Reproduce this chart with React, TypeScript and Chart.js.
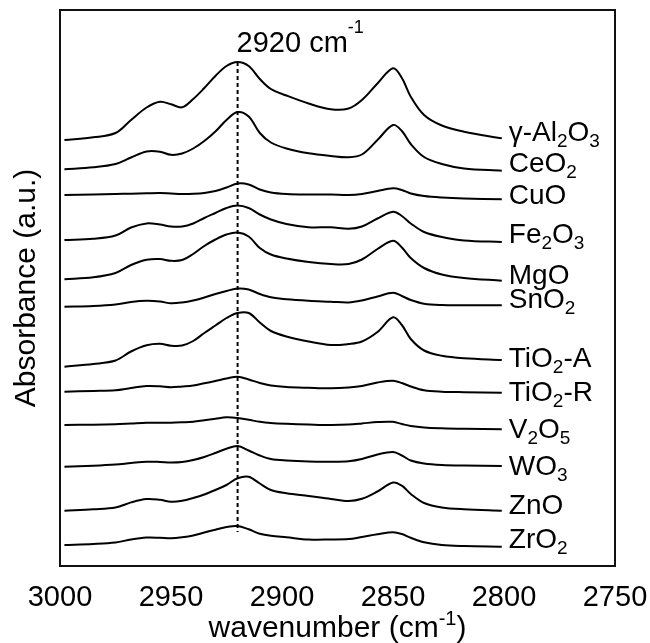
import React, { useEffect, useRef } from 'react';
import { Chart, registerables } from 'chart.js';

Chart.register(...registerables);

// Wavenumber grid (cm-1), shared by every spectrum
const WAVENUMBERS = [2998, 2985, 2975, 2968, 2961, 2955, 2950, 2945, 2940, 2935, 2930, 2925, 2920, 2915, 2910, 2905, 2898, 2888, 2878, 2870, 2864, 2857, 2850, 2846, 2842, 2836, 2828, 2818, 2801];

// Stacked absorbance (a.u., offset traces)
const AL2O3 = [426, 428.7, 433, 446, 458.5, 464.3, 461.7, 458.7, 467, 478, 490, 500, 504, 500, 487, 477, 470.5, 462.5, 456.7, 457.5, 466, 482.5, 497.7, 488, 469.3, 451, 440.5, 434.3, 427.7];
const CEO2 = [396.7, 398.7, 402, 408.5, 414.5, 414.3, 411.2, 412.5, 417.5, 425, 434.5, 446, 454, 449.5, 433, 423.5, 417.5, 412.7, 410, 408.7, 411.5, 426, 441, 435, 422, 409, 402, 397.5, 395.3];
const CUO = [371, 371.5, 372, 372.3, 372.7, 373, 372.5, 372, 372.2, 373, 375, 378.5, 382.5, 381.5, 376.5, 373.5, 372, 371.5, 371.5, 371, 372, 375, 377.7, 376, 372.5, 370, 368.5, 367.5, 366.7];
const FE2O3 = [326, 327.3, 330.5, 338.5, 342.6, 341.5, 339.5, 339.5, 342.5, 348, 353, 358, 360.5, 358, 351.5, 346.5, 342, 338.7, 338.7, 337.2, 339.5, 347.5, 354.3, 350, 342.5, 334, 329, 325.5, 324];
const MGO = [286.7, 288.7, 293, 301, 306.2, 307, 305.2, 306, 312, 320, 326.5, 331.5, 333.5, 329.5, 318, 311.5, 307.5, 304, 302, 302, 306.5, 317, 325.3, 318.5, 308, 298, 291.5, 288, 285.3];
const SNO2 = [259.3, 260, 261.5, 264, 265.2, 264.5, 262.7, 263.5, 265.5, 268.5, 272, 275, 277.5, 276.5, 272, 268.7, 266.7, 265.2, 264.3, 263.5, 265.5, 269.5, 273.3, 270, 266, 262.3, 261, 260.8, 260.7];
const TIO2_A = [199.3, 202, 205.5, 214.5, 220.7, 222.2, 220.3, 220.5, 225, 233, 240.5, 248, 253, 253, 243.5, 235, 229.5, 224.5, 221, 222, 224.5, 234, 248.7, 241, 227, 215.5, 210.2, 207.7, 206];
const TIO2_R = [174.3, 175, 175.7, 178, 180, 179.7, 178.7, 179.5, 180.5, 182.7, 185, 187.5, 189.3, 186.5, 183, 180.5, 179, 178.2, 177.7, 178.5, 180, 183.5, 185.3, 183, 179.5, 175.7, 174.3, 173.8, 173.3];
const V2O5 = [141, 141.3, 141.8, 142.5, 143.2, 143.3, 143.3, 143.7, 144.3, 145.8, 147.3, 148.7, 148, 146.2, 144.2, 143, 142.2, 141.5, 141, 141.4, 142.5, 144, 144.2, 142, 140, 138.5, 137.7, 137.2, 136.7];
const WO3 = [99.3, 100.3, 101.5, 103, 104.3, 104.1, 103.5, 104, 106, 109, 113, 117.3, 120, 115.5, 110.5, 107, 105.5, 104.5, 104.3, 104.8, 107, 111.5, 114, 110.5, 105.5, 102.5, 101, 100.4, 100];
const ZNO = [55.3, 56.7, 58.4, 63.6, 67, 66.2, 64.3, 65.2, 68, 71.5, 76, 81, 87.7, 89.2, 82.5, 76, 72.8, 70, 67, 65, 67.2, 74.5, 83.5, 80.3, 72, 63, 58.5, 56.7, 55.3];
const ZRO2 = [21, 22, 23.5, 26.5, 28.4, 28.2, 27.7, 28.7, 30.5, 33.5, 36.3, 39, 40, 36.7, 32.3, 30.2, 28.7, 26.5, 26.5, 26.9, 29, 31.7, 33.8, 32, 28.2, 23.7, 21, 20, 19.3];

// Labels ("_x" = subscript)
const SERIES_LABELS = ['γ-Al_2O_3', 'CeO_2', 'CuO', 'Fe_2O_3', 'MgO', 'SnO_2', 'TiO_2-A', 'TiO_2-R', 'V_2O_5', 'WO_3', 'ZnO', 'ZrO_2'];
const SERIES_VALUES = [AL2O3, CEO2, CUO, FE2O3, MGO, SNO2, TIO2_A, TIO2_R, V2O5, WO3, ZNO, ZRO2];

const X_TICKS = [3000, 2950, 2900, 2850, 2800, 2750];
const MARKER_WAVENUMBER = 2920;
const MARKER_TOP = 504;
const MARKER_BOTTOM = 34;
const MARKER_LABEL = '2920 cm^{-1}';
const X_TITLE = 'wavenumber (cm^{-1})';
const Y_TITLE = 'Absorbance (a.u.)';

// layout only
const LABEL_DY = [3, 1, 5, 1, 3, 3, 7, 8, 9, 9, 3, 1];
const FONT = '"Liberation Sans", Arial, Helvetica, sans-serif';

type Seg = { t: string; k: 'n' | 'sub' | 'sup' };
function parseRich(s: string): Seg[] {
  const segs: Seg[] = [];
  let buf = '';
  for (let i = 0; i < s.length; i++) {
    const c = s[i];
    if (c === '_') {
      if (buf) { segs.push({ t: buf, k: 'n' }); buf = ''; }
      segs.push({ t: s[i + 1], k: 'sub' });
      i++;
    } else if (c === '^') {
      if (buf) { segs.push({ t: buf, k: 'n' }); buf = ''; }
      const end = s.indexOf('}', i);
      segs.push({ t: s.slice(i + 2, end), k: 'sup' });
      i = end;
    } else buf += c;
  }
  if (buf) segs.push({ t: buf, k: 'n' });
  return segs;
}

function drawRich(ctx: CanvasRenderingContext2D, s: string, x: number, y: number, size: number, small: number, subDy: number, supDy: number, align: 'left' | 'center') {
  const segs = parseRich(s);
  const fontOf = (k: string) => `${k === 'n' ? size : small}px ${FONT}`;
  let total = 0;
  for (const sg of segs) { ctx.font = fontOf(sg.k); total += ctx.measureText(sg.t).width; }
  let cx = align === 'center' ? x - total / 2 : x;
  ctx.textAlign = 'left';
  ctx.textBaseline = 'alphabetic';
  for (const sg of segs) {
    ctx.font = fontOf(sg.k);
    const dy = sg.k === 'sub' ? subDy : sg.k === 'sup' ? supDy : 0;
    ctx.fillText(sg.t, cx, y + dy);
    cx += ctx.measureText(sg.t).width;
  }
}

const decorPlugin = {
  id: 'decor',
  afterDatasetsDraw(chart: any) {
    const { ctx, chartArea, scales } = chart;
    const xs = scales.x;
    const ys = scales.y;
    ctx.save();
    ctx.fillStyle = '#000';
    // frame
    ctx.strokeStyle = '#111';
    ctx.lineWidth = 2;
    ctx.strokeRect(chartArea.left, chartArea.top, chartArea.right - chartArea.left, chartArea.bottom - chartArea.top);
    // series labels
    SERIES_VALUES.forEach((vals, i) => {
      const n = vals.length - 1;
      const px = xs.getPixelForValue(WAVENUMBERS[n]) + 7;
      const py = ys.getPixelForValue(vals[n]) + LABEL_DY[i];
      drawRich(ctx, SERIES_LABELS[i], px, py, 28, 19, 6, -12, 'left');
    });
    // marker label
    drawRich(ctx, MARKER_LABEL, xs.getPixelForValue(MARKER_WAVENUMBER) - 1, chartArea.top + 42, 29, 18, 6, -19, 'left');
    // x title
    drawRich(ctx, X_TITLE, (chartArea.left + chartArea.right) / 2, 637, 30, 20, 6, -12, 'center');
    // y title
    ctx.save();
    ctx.translate(35, (chartArea.top + chartArea.bottom) / 2);
    ctx.rotate(-Math.PI / 2);
    ctx.font = `30px ${FONT}`;
    ctx.textAlign = 'center';
    ctx.textBaseline = 'alphabetic';
    ctx.fillText(Y_TITLE, 0, 0);
    ctx.restore();
    ctx.restore();
  },
};

export default function App() {
  const ref = useRef<HTMLCanvasElement | null>(null);
  useEffect(() => {
    if (!ref.current) return;
    const datasets: any[] = SERIES_VALUES.map((vals, i) => ({
      label: SERIES_LABELS[i],
      data: vals.map((v, j) => ({ x: WAVENUMBERS[j], y: v })),
      borderColor: '#000',
      borderWidth: 2,
      pointRadius: 0,
      fill: false,
      tension: 0.35,
    }));
    datasets.push({
      label: 'marker',
      data: [{ x: MARKER_WAVENUMBER, y: MARKER_TOP }, { x: MARKER_WAVENUMBER, y: MARKER_BOTTOM }],
      borderColor: '#000',
      borderWidth: 2,
      borderDash: [4, 3],
      pointRadius: 0,
      fill: false,
      tension: 0,
    });
    const chart = new Chart(ref.current, {
      type: 'line',
      data: { datasets },
      options: {
        animation: false,
        responsive: true,
        maintainAspectRatio: false,
        layout: { padding: { left: 60, right: 35, top: 10, bottom: 0 } },
        plugins: { legend: { display: false }, tooltip: { enabled: false } },
        scales: {
          x: {
            type: 'linear',
            reverse: true,
            min: 2750,
            max: 3000,
            grid: { display: false },
            border: { display: false },
            afterBuildTicks: (scale: any) => { scale.ticks = X_TICKS.map((v) => ({ value: v })); },
            afterFit: (scale: any) => {
              scale.height = 77;
              scale.paddingLeft = 0;
              scale.paddingRight = 0;
            },
            ticks: {
              color: '#000',
              padding: 7,
              maxRotation: 0,
              autoSkip: false,
              font: { family: FONT, size: 29 },
              callback: (v: any) => String(v),
            },
          },
          y: {
            type: 'linear',
            display: false,
            min: 0,
            max: 556,
          },
        },
      },
      plugins: [decorPlugin],
    });
    return () => chart.destroy();
  }, []);
  return (
    <div style={{ position: 'absolute', left: 0, top: 0, width: 650, height: 643 }}>
      <canvas ref={ref} />
    </div>
  );
}
